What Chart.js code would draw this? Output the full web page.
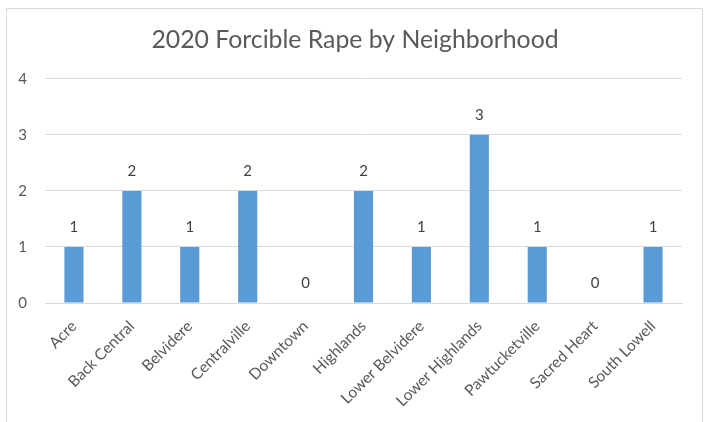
<!DOCTYPE html>
<html><head><meta charset="utf-8">
<script src="https://cdn.jsdelivr.net/npm/chart.js@4.4.1/dist/chart.umd.min.js"></script>
<style>
html,body{margin:0;padding:0;background:#fff;}
#wrap{position:relative;width:712px;height:422px;}
#frame{position:absolute;left:6px;top:8px;width:697px;height:420px;border:1px solid #d9d9d9;box-sizing:border-box;}
canvas{position:absolute;left:0;top:0;}
</style></head>
<body><div id="wrap"><div id="frame"></div><canvas id="c" width="712" height="422"></canvas></div>
<script>
const categories = ["Acre","Back Central","Belvidere","Centralville","Downtown","Highlands","Lower Belvidere","Lower Highlands","Pawtucketville","Sacred Heart","South Lowell"];
const values = [1,2,1,2,0,2,1,3,1,0,1];
const yTicks = [0,1,2,3,4];
const titleText = "2020 Forcible Rape by Neighborhood";
const FONT = "Lato, 'Open Sans', sans-serif";
const TXT = "#595959";

const valueLabels = {
  id:'valueLabels',
  afterDatasetsDraw(chart){
    const ctx = chart.ctx;
    const meta = chart.getDatasetMeta(0);
    ctx.save();
    ctx.font = "15px " + FONT;
    ctx.fillStyle = "#404040";
    ctx.textAlign = 'center';
    ctx.textBaseline = 'middle';
    meta.data.forEach((bar,i)=>{
      ctx.fillText(String(values[i]), bar.x, bar.y - 20);
    });
    ctx.restore();
  }
};

new Chart(document.getElementById('c'), {
  type:'bar',
  data:{labels:categories, datasets:[{data:values, backgroundColor:'#5B9BD5', borderWidth:0, barPercentage:1, categoryPercentage:0.33}]},
  options:{
    responsive:false, animation:false,
    layout:{padding:{left:7,right:9,top:8,bottom:0}},
    plugins:{
      legend:{display:false}, tooltip:{enabled:false},
      title:{display:true, text:titleText, color:TXT, font:{family:FONT,size:24.8,weight:'normal'}, padding:{top:17,bottom:24}}
    },
    scales:{
      x:{
        grid:{display:false, drawTicks:false},
        border:{display:true, color:'#d9d9d9', width:1},
        ticks:{color:TXT, font:{family:FONT,size:15.5}, minRotation:45, maxRotation:45, autoSkip:false, padding:14},
        afterFit(s){ s.height = 119; }
      },
      y:{
        min:0, max:4,
        afterBuildTicks(s){ s.ticks = yTicks.map(v=>({value:v})); },
        grid:{color:'#d9d9d9', drawTicks:false},
        border:{display:false},
        ticks:{color:TXT, font:{family:FONT,size:15}, padding:18},
        afterFit(s){ s.width = 38; }
      },
      yRight:{
        position:'right', min:0, max:4,
        grid:{display:false, drawTicks:false},
        border:{display:false},
        ticks:{display:false},
        afterFit(s){ s.width = 21; }
      }
    }
  },
  plugins:[valueLabels]
});
</script></body></html>
